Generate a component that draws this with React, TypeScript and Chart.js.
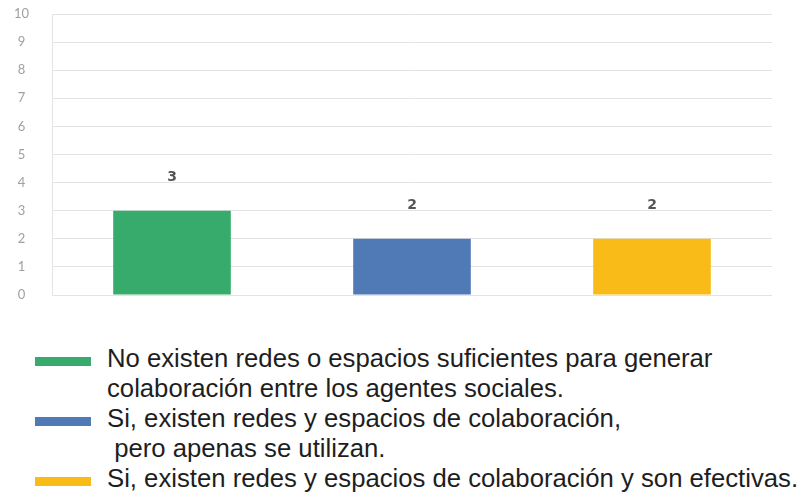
import React, { useEffect, useRef } from "react";
import { Chart, registerables } from "chart.js";

Chart.register(...registerables);

const categories = [
  "No existen redes o espacios suficientes para generar colaboración entre los agentes sociales.",
  "Si, existen redes y espacios de colaboración, pero apenas se utilizan.",
  "Si, existen redes y espacios de colaboración y son efectivas.",
];
const values = [3, 2, 2];
const colors = ["#37ab6b", "#4f7ab5", "#f8bb17"];
const legendLines: string[][] = [
  ["No existen redes o espacios suficientes para generar", "colaboración entre los agentes sociales."],
  ["Si, existen redes y espacios de colaboración,", "\u00a0pero apenas se utilizan."],
  ["Si, existen redes y espacios de colaboración y son efectivas."],
];
const yTicks = [0, 1, 2, 3, 4, 5, 6, 7, 8, 9, 10];

const valueLabels = {
  id: "valueLabels",
  afterDatasetsDraw(chart: any) {
    const ctx = chart.ctx;
    const meta = chart.getDatasetMeta(0);
    ctx.save();
    ctx.font = "bold 14px 'DejaVu Sans', sans-serif";
    ctx.fillStyle = "#555";
    ctx.textAlign = "center";
    ctx.textBaseline = "middle";
    meta.data.forEach((bar: any, i: number) => {
      ctx.fillText(String(values[i]), bar.x, bar.y - 33);
    });
    ctx.restore();
  },
};

export default function App() {
  const ref = useRef<HTMLCanvasElement | null>(null);
  useEffect(() => {
    document.body.style.margin = "0";
    const chart = new Chart(ref.current!, {
      type: "bar",
      data: {
        labels: categories,
        datasets: [
          {
            data: values,
            backgroundColor: colors,
            categoryPercentage: 1,
            barPercentage: 0.49,
          },
        ],
      },
      options: {
        animation: false,
        responsive: false,
        layout: { padding: { top: 14, right: 32, bottom: 7, left: 0 } },
        plugins: { legend: { display: false }, tooltip: { enabled: false } },
        scales: {
          x: {
            grid: { display: false },
            ticks: { display: false },
            border: { display: false },
          },
          y: {
            min: 0,
            max: 10,
            afterBuildTicks: (s: any) => {
              s.ticks = yTicks.map((v) => ({ value: v }));
            },
            afterFit: (s: any) => {
              s.width = 52;
              s.paddingTop = 0;
              s.paddingBottom = 0;
            },
            ticks: {
              color: "#a0a0a0",
              font: { family: "Lato, sans-serif", size: 13 },
              crossAlign: "center",
              padding: 23,
            },
            grid: { color: "#e3e3e3", drawTicks: false },
            border: { display: true, color: "#e3e3e3" },
          },
        },
      },
      plugins: [valueLabels],
    });
    return () => chart.destroy();
  }, []);

  return (
    <div style={{ position: "relative", width: 804, height: 497, background: "#fff" }}>
      <canvas ref={ref} width={804} height={310} style={{ display: "block" }} />
      <div
        style={{
          position: "absolute",
          left: 0,
          top: 343,
          fontFamily: "'Liberation Sans', Arial, sans-serif",
          fontSize: 25.7,
          color: "#1e1e1e",
          lineHeight: "30px",
        }}
      >
        {legendLines.map((lines, i) => (
          <div key={i}>
            {lines.map((t, j) => (
              <div key={j} style={{ position: "relative", paddingLeft: 107, whiteSpace: "pre" }}>
                {j === 0 && (
                  <span
                    style={{
                      position: "absolute",
                      left: 35,
                      top: 14,
                      width: 56,
                      height: 9,
                      background: colors[i],
                    }}
                  />
                )}
                {t}
              </div>
            ))}
          </div>
        ))}
      </div>
    </div>
  );
}
